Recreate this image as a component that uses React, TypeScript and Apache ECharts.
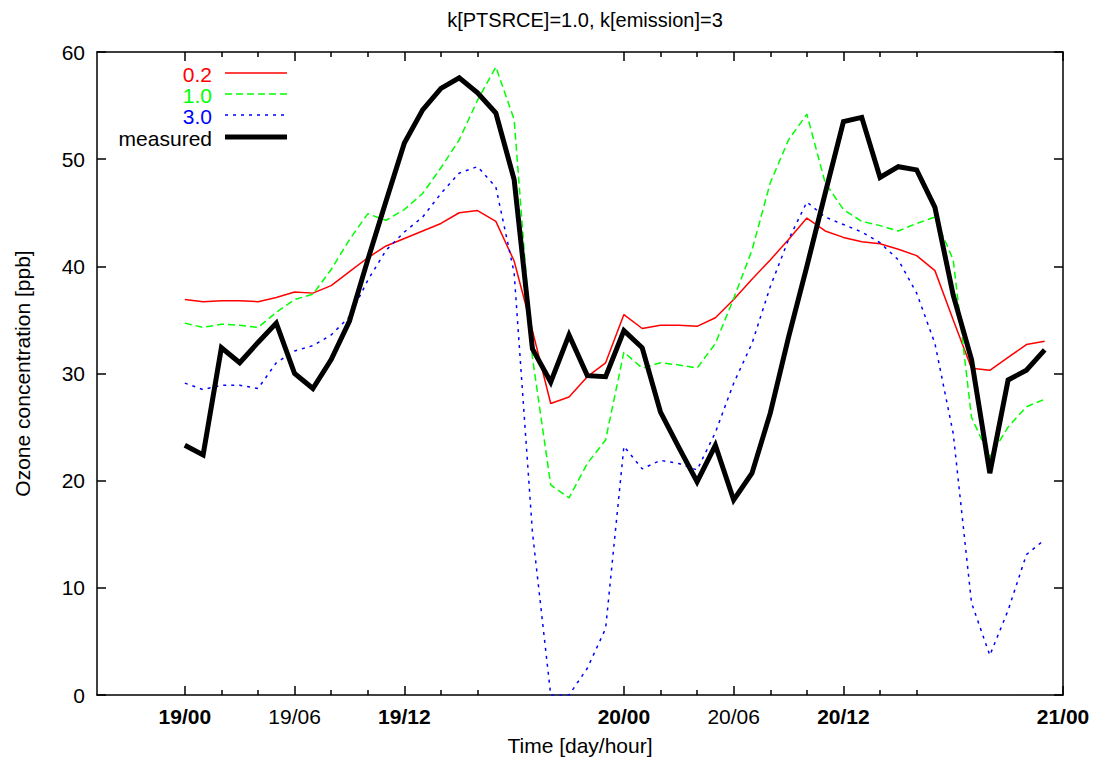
import React, { useEffect, useRef } from "react";
import * as echarts from "echarts";

const title = "k[PTSRCE]=1.0, k[emission]=3";
const xName = "Time [day/hour]";
const yName = "Ozone concentration [ppb]";

// hours since 19/00
const hours = [0,1,2,3,4,5,6,7,8,9,10,11,12,13,14,15,16,17,18,19,20,21,22,23,24,25,26,27,28,29,30,31,32,33,34,35,36,37,38,39,40,41,42,43,44,45,46,47];

const red02 = [36.9,36.7,36.8,36.8,36.7,37.1,37.6,37.5,38.2,39.5,40.8,41.9,42.6,43.3,44.0,45.0,45.2,44.2,40.5,34.0,27.2,27.8,29.7,31.0,35.5,34.2,34.5,34.5,34.4,35.2,36.9,38.8,40.6,42.5,44.5,43.3,42.7,42.3,42.1,41.6,41.0,39.6,35.0,30.5,30.3,31.5,32.7,33.0];
const green10 = [34.7,34.3,34.6,34.5,34.3,35.7,36.9,37.4,39.7,42.5,44.9,44.3,45.3,46.8,49.2,51.8,55.5,58.6,53.7,31.5,19.6,18.4,21.6,23.8,32.0,30.5,31.0,30.8,30.5,32.8,37.0,41.5,47.8,51.8,54.2,47.8,45.3,44.2,43.8,43.3,44.0,44.6,40.6,25.9,22.2,25.0,26.9,27.6];
const blue30 = [29.1,28.5,28.9,28.9,28.6,31.0,32.1,32.6,33.6,35.3,38.7,41.5,43.2,44.6,46.8,48.7,49.3,47.4,39.4,15.2,0.0,0.0,2.5,6.2,23.2,21.1,21.9,21.6,21.0,24.5,29.1,32.8,38.1,42.5,46.0,44.6,43.9,43.2,42.2,40.6,37.5,32.8,24.4,8.6,3.7,7.9,13.1,14.5];
const measured = [23.3,22.4,32.4,31.0,32.9,34.7,30.0,28.6,31.3,34.9,40.6,46.1,51.5,54.6,56.6,57.6,56.2,54.3,48.1,32.3,29.2,33.6,29.8,29.7,34.0,32.4,26.4,23.1,19.9,23.3,18.2,20.7,26.3,33.4,40.0,46.8,53.5,53.9,48.3,49.3,49.0,45.5,37.3,31.3,20.7,29.4,30.3,32.2];

const majorTicks = [0, 6, 12, 24, 30, 36, 48];
const majorLabels = ["19/00", "19/06", "19/12", "20/00", "20/06", "20/12", "21/00"];
const boldLabels = ["19/00", "19/12", "20/00", "20/12", "21/00"];
const minorTicks = [2, 4, 8, 10, 14, 16, 26, 28, 32, 34, 38, 40];

const legendNames = ["0.2", "1.0", "3.0", "measured"];
const legendColors = ["#ff0000", "#00ff00", "#0000ff", "#000000"];

const FONT = "Liberation Sans, Arial, sans-serif";
const FS = 21;

export default function App() {
  const ref = useRef<HTMLDivElement>(null);
  useEffect(() => {
    document.body.style.margin = "0";
    const chart = echarts.init(ref.current!, null, { renderer: "svg" });
    const pairs = (arr: number[]) => hours.map((h, i) => [h, arr[i]]);
    const axisLineStyle = { color: "#000", width: 1.5 };
    const baseX = { type: "value", min: -4.8, max: 48, splitLine: { show: false } };
    const labelFmt = (v: number) => {
      const idx = majorTicks.indexOf(v);
      if (idx < 0) return "";
      const s = majorLabels[idx];
      return boldLabels.includes(s) ? `{b|${s}}` : `{n|${s}}`;
    };
    const legendY = [74, 95, 116, 138];
    const graphics: any[] = [];
    legendNames.forEach((n, i) => {
      graphics.push({
        type: "text",
        x: 212,
        y: legendY[i],
        style: {
          text: n,
          fill: legendColors[i],
          font: `${FS}px ${FONT}`,
          textAlign: "right",
          textVerticalAlign: "middle",
        },
      });
      const ls: any = { stroke: legendColors[i], lineWidth: i === 3 ? 5 : 1.5 };
      if (i === 1) ls.lineDash = [7, 4];
      if (i === 2) ls.lineDash = [3, 5];
      graphics.push({
        type: "line",
        shape: { x1: 225, y1: legendY[i] - 1, x2: 287, y2: legendY[i] - 1 },
        style: ls,
      });
    });
    chart.setOption({
      animation: false,
      title: {
        text: title,
        left: 580,
        textAlign: "center",
        top: 5,
        textStyle: { fontFamily: FONT, fontSize: 20, fontWeight: "normal", color: "#000" },
      },
      grid: { left: 97, right: 30, top: 52, bottom: 64, containLabel: false, outerBoundsMode: "none" },
      xAxis: [
        {
          ...baseX,
          position: "bottom",
          name: xName,
          nameLocation: "middle",
          nameGap: 40,
          nameTextStyle: { fontFamily: FONT, fontSize: FS, color: "#000" },
          axisLine: { show: true, onZero: false, lineStyle: axisLineStyle },
          axisTick: { show: true, inside: true, length: 9, customValues: majorTicks, lineStyle: axisLineStyle },
          axisLabel: {
            show: true,
            customValues: majorTicks,
            margin: 11,
            formatter: labelFmt,
            rich: {
              b: { fontFamily: FONT, fontSize: FS, fontWeight: "bold", color: "#000" },
              n: { fontFamily: FONT, fontSize: FS, color: "#000" },
            },
          },
        },
        {
          ...baseX,
          position: "bottom",
          axisLine: { show: false, onZero: false },
          axisTick: { show: true, inside: true, length: 5, customValues: minorTicks, lineStyle: axisLineStyle },
          axisLabel: { show: false },
        },
        {
          ...baseX,
          position: "top",
          axisLine: { show: true, onZero: false, lineStyle: axisLineStyle },
          axisTick: { show: true, inside: true, length: 9, customValues: majorTicks, lineStyle: axisLineStyle },
          axisLabel: { show: false },
        },
        {
          ...baseX,
          position: "top",
          axisLine: { show: false, onZero: false },
          axisTick: { show: true, inside: true, length: 5, customValues: minorTicks, lineStyle: axisLineStyle },
          axisLabel: { show: false },
        },
      ],
      yAxis: [
        {
          type: "value",
          min: 0,
          max: 60,
          interval: 10,
          position: "left",
          name: yName,
          nameLocation: "middle",
          nameGap: 64,
          nameTextStyle: { fontFamily: FONT, fontSize: FS, color: "#000" },
          splitLine: { show: false },
          axisLine: { show: true, onZero: false, lineStyle: axisLineStyle },
          axisTick: { show: true, inside: true, length: 9, lineStyle: axisLineStyle },
          axisLabel: { margin: 12, fontFamily: FONT, fontSize: FS, color: "#000" },
        },
        {
          type: "value",
          min: 0,
          max: 60,
          interval: 10,
          position: "right",
          splitLine: { show: false },
          axisLine: { show: true, onZero: false, lineStyle: axisLineStyle },
          axisTick: { show: true, inside: true, length: 9, lineStyle: axisLineStyle },
          axisLabel: { show: false },
        },
      ],
      series: [
        {
          name: "0.2",
          type: "line",
          data: pairs(red02),
          symbol: "none",
          lineStyle: { color: "#ff0000", width: 1.5 },
        },
        {
          name: "1.0",
          type: "line",
          data: pairs(green10),
          symbol: "none",
          lineStyle: { color: "#00ff00", width: 1.5, type: [7, 4] },
        },
        {
          name: "3.0",
          type: "line",
          data: pairs(blue30),
          symbol: "none",
          lineStyle: { color: "#0000ff", width: 1.5, type: [3, 5] },
        },
        {
          name: "measured",
          type: "line",
          data: pairs(measured),
          symbol: "none",
          lineStyle: { color: "#000000", width: 5, join: "miter" },
        },
      ],
      graphic: graphics,
    });
    return () => chart.dispose();
  }, []);
  return <div ref={ref} style={{ width: 1093, height: 759 }} />;
}
